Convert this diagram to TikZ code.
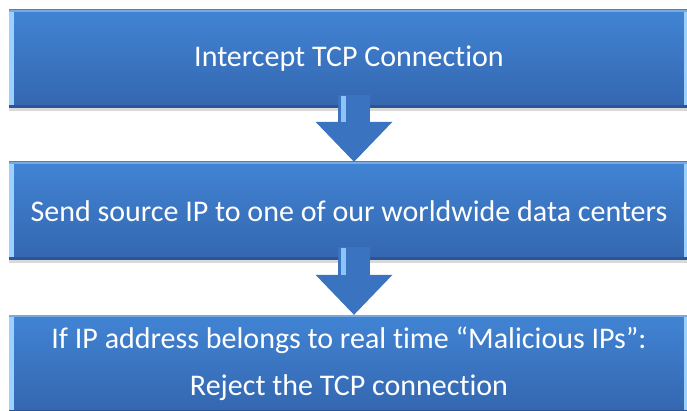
\documentclass[tikz,border=0pt]{standalone}
\usepackage{fontspec}
\setmainfont{Carlito}[Ligatures=NoCommon]
\usetikzlibrary{arrows.meta,positioning,shadows}
\definecolor{boxtop}{HTML}{4184D4}
\definecolor{boxbot}{HTML}{3466AF}
\definecolor{bevellight}{HTML}{9BD0FF}
\definecolor{beveldark}{HTML}{2B5696}
\definecolor{arrowblue}{HTML}{3A73BF}
\definecolor{arrowlight}{HTML}{8CC4FA}

\begin{document}
\begin{tikzpicture}[x=1pt, y=1pt,
    stepbox/.style={minimum width=680pt, minimum height=98pt, inner sep=0pt,
        top color=boxtop, bottom color=boxbot, text=white, align=center,
        font=\fontsize{30}{47}\selectfont,
        drop shadow={shadow xshift=0pt, shadow yshift=-3pt, opacity=0.3},
        path picture={
            \fill[bevellight] (path picture bounding box.north west) rectangle ([xshift=5pt]path picture bounding box.south west);
            \fill[bevellight] (path picture bounding box.north east) rectangle ([xshift=-5pt]path picture bounding box.south east);
            \fill[beveldark] (path picture bounding box.south west) rectangle ([yshift=3pt]path picture bounding box.south east);
            \fill[boxtop!70!white] (path picture bounding box.north west) rectangle ([yshift=-2pt]path picture bounding box.north east);
        }},
    flowarrow/.style={line width=32pt, arrowblue, shorten <=-13pt,
        -{Triangle[width=77pt, length=40pt, line width=0pt]}},
    shaftlight/.style={line width=5pt, arrowlight},
]
    \useasboundingbox (0,0) rectangle (687,-411);

    % boxes, top to bottom
    \node[stepbox] (intercept) at (349,-59) {Intercept TCP Connection};
    \node[stepbox] (send) at (349,-211) {Send source IP to one of our worldwide data centers};
    \node[stepbox] (reject) at (349,-364) {If IP address belongs to real time ``Malicious IPs'':\\Reject the TCP connection};

    % block arrows
    \draw[flowarrow] ([xshift=5pt]intercept.south) -- ([xshift=5pt]send.north);
    \draw[shaftlight] ([xshift=-6pt, yshift=12pt]intercept.south) -- ([xshift=-6pt, yshift=40pt]send.north);
    \draw[flowarrow] ([xshift=5pt]send.south) -- ([xshift=5pt]reject.north);
    \draw[shaftlight] ([xshift=-6pt, yshift=12pt]send.south) -- ([xshift=-6pt, yshift=40pt]reject.north);
\end{tikzpicture}
\end{document}
